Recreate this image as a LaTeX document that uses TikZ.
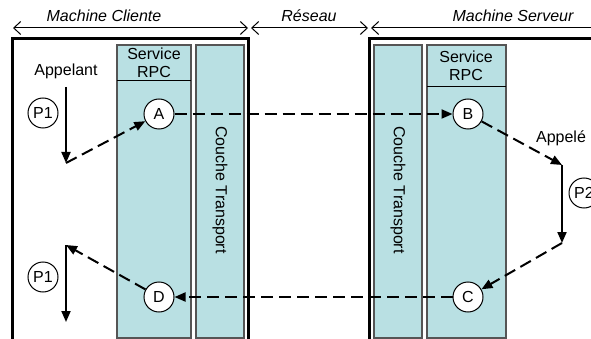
\documentclass[tikz,border=0pt]{standalone}
\usepackage{fontspec}
\setmainfont{Liberation Sans}
\usepackage{tikz}
\usetikzlibrary{arrows.meta, positioning}

\definecolor{colfill}{RGB}{185,224,227}
\definecolor{colline}{RGB}{85,85,85}

\begin{document}
\begin{tikzpicture}[
    x=1pt, y=-1pt,
    every node/.style={font=\fontsize{16}{18.5}\selectfont, align=center},
    machine/.style={draw=black, line width=3pt},
    column/.style={draw=colline, fill=colfill, line width=1.2pt},
    etape/.style={circle, draw=black, fill=white, line width=1pt, minimum size=30pt, inner sep=0pt},
    dasharrow/.style={-{Triangle[length=11pt,width=9pt]}, dash pattern=on 12pt off 6pt, line width=2pt},
    solidarrow/.style={-{Triangle[length=11pt,width=9pt]}, line width=2pt},
    span/.style={{Straight Barb[length=7pt,width=13pt]}-{Straight Barb[length=7pt,width=13pt]}, line width=1pt},
    title/.style={font=\fontsize{16}{18.5}\selectfont\itshape}
]
\useasboundingbox (0,0) rectangle (591,339);

% Top spans
\coordinate (cliL) at (13,28);
\coordinate (cliR) at (248,28);
\coordinate (resL) at (251,28);
\coordinate (resR) at (368,28);
\coordinate (srvL) at (371,28);
\coordinate (srvR) at (600,28);
\draw [span] (cliL) -- (cliR);
\draw [span] (resL) -- (resR);
\draw [{Straight Barb[length=7pt,width=13pt]}-, line width=1pt] (srvL) -- (srvR);
\node (t_cli) [title] at (104,16) {Machine Cliente};
\node (t_res) [title] at (309,16) {Réseau};
\node (t_srv) [title] at (513,16) {Machine Serveur};

% Machine boxes
\draw [machine] (12,350) |- (248,39) -- (248,350);
\draw [machine] (369,350) |- (600,39);

% Client columns
\draw [column] (117,45) rectangle (191,338);
\draw [line width=1pt] (117,81) -- (191,81);
\draw [column] (196,45) rectangle (244,338);
\node (rpc_cli) at (154,63) {Service\\RPC};
\node (tr_cli) [rotate=-90] at (220,190) {Couche Transport};

% Server columns
\draw [column] (374,45) rectangle (422,338);
\draw [column] (427,45) rectangle (506,338);
\draw [line width=1pt] (427,87) -- (506,87);
\node (rpc_srv) at (466,66) {Service\\RPC};
\node (tr_srv) [rotate=-90] at (398,190) {Couche Transport};

% Steps
\node (A) [etape] at (159,114) {A};
\node (B) [etape] at (468,114) {B};
\node (C) [etape] at (468,297) {C};
\node (D) [etape] at (159,297) {D};

% Processes
\node (appelant) at (66,71) {Appelant};
\node (p1a) [etape] at (43,113) {P1};
\node (p1b) [etape] at (43,277) {P1};
\node (appele) at (561,138) {Appelé};
\node (p2) [etape] at (584,193) {P2};
\coordinate (p1aTop) at (66,87);
\coordinate (p1aBot) at (66,163);
\coordinate (p1bTop) at (66,245);
\coordinate (p1bBot) at (66,322);
\coordinate (p2Top) at (562,165);
\coordinate (p2Bot) at (562,243);

% Calls
\draw [solidarrow] (p1aTop) -- (p1aBot);
\draw [dasharrow] (p1aBot) -- (A);
\draw [dasharrow] (A) -- (B);
\draw [dasharrow] (B) -- (p2Top);
\draw [solidarrow] (p2Top) -- (p2Bot);
\draw [dasharrow] (p2Bot) -- (C);
\draw [dasharrow] (C) -- (D);
\draw [dasharrow] (D) -- (p1bTop);
\draw [solidarrow] (p1bTop) -- (p1bBot);

\end{tikzpicture}
\end{document}
